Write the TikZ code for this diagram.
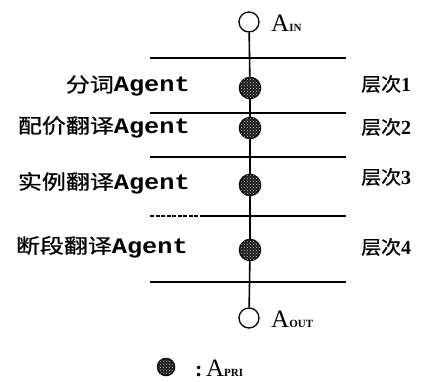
\documentclass[tikz,border=0pt]{standalone}
\usepackage{fontspec}
\usetikzlibrary{patterns}
\newfontfamily\cjk[FakeStretch=1.2,FakeBold=0.8]{Noto Sans CJK SC}
\newfontfamily\cjkr[FakeStretch=1.05,FakeBold=0.8]{Noto Sans CJK SC}
\newfontfamily\agentfont[FakeStretch=1.15]{Liberation Mono}
\newfontfamily\serfont{Liberation Serif}
\newcommand{\lbl}[1]{{\fontsize{20}{20}\selectfont\cjk #1}{\fontsize{22}{22}\selectfont\agentfont\bfseries Agent}}
\newcommand{\lvl}[1]{{\fontsize{19}{19}\selectfont\cjkr 层次}{\fontsize{20}{20}\selectfont\serfont\bfseries #1}}
\newcommand{\asub}[1]{{\fontsize{25}{25}\selectfont\serfont A}{\fontsize{11}{11}\selectfont\serfont\bfseries #1}}
\begin{document}
\begin{tikzpicture}[x=1pt,y=-1pt,
  opencirc/.style={circle,draw,line width=1.3pt,minimum size=20pt,inner sep=0pt},
  agentcirc/.style={circle,draw,line width=1.5pt,fill=black!90,minimum size=21pt,inner sep=0pt,
    postaction={pattern=crosshatch dots,pattern color=white!80!black}},
  sep/.style={line width=1.8pt},
  conn/.style={line width=1.6pt},
  lefttext/.style={anchor=east,inner sep=0pt},
  righttext/.style={anchor=west,inner sep=0pt},
  atext/.style={anchor=west,inner sep=0pt}]
\useasboundingbox (0,0) rectangle (426,381);
% nodes
\node[opencirc] (in) at (249,22) {};
\node[atext] (inlbl) at (271,23) {\asub{IN}};
\node[agentcirc] (a1) at (250,88) {};
\node[agentcirc] (a2) at (250,128) {};
\node[agentcirc] (a3) at (250,185) {};
\node[agentcirc] (a4) at (250,250) {};
\node[opencirc] (out) at (249,318) {};
\node[atext] (outlbl) at (271,319) {\asub{OUT}};
% separators
\coordinate (s1l) at (150,58);  \coordinate (s1r) at (346,58);
\coordinate (s2l) at (150,113); \coordinate (s2r) at (346,113);
\coordinate (s3l) at (150,157); \coordinate (s3r) at (346,157);
\coordinate (s4l) at (150,216); \coordinate (s4m) at (204,216); \coordinate (s4r) at (346,216);
\coordinate (s5l) at (150,282); \coordinate (s5r) at (346,282);
\draw[sep] (s1l) -- (s1r);
\draw[sep] (s2l) -- (s2r);
\draw[sep] (s3l) -- (s3r);
\draw[line width=1.8pt,dash pattern=on 4pt off 1.5pt] (s4l) -- (s4m);
\draw[sep] (s4m) -- (s4r);
\draw[sep] (s5l) -- (s5r);
% connectors
\draw[conn] (in) -- (a1);
\draw[conn] (a1) -- (a2);
\draw[conn] (a2) -- (a3);
\draw[conn] (a3) -- (a4);
\draw[conn] (a4) -- (out);
% labels
\node[lefttext] (l1) at (190,86) {\lbl{分词}};
\node[lefttext] (l2) at (190,127) {\lbl{配价翻译}};
\node[lefttext] (l3) at (190,183) {\lbl{实例翻译}};
\node[lefttext] (l4) at (188,247) {\lbl{断段翻译}};
\node[righttext] (r1) at (361,84) {\lvl{1}};
\node[righttext] (r2) at (361,127) {\lvl{2}};
\node[righttext] (r3) at (361,177) {\lvl{3}};
\node[righttext] (r4) at (361,247) {\lvl{4}};
% legend
\node[agentcirc,minimum size=17pt] (leg) at (166,367) {};
\node[atext] (leglbl) at (195,368) {{\fontsize{22}{22}\selectfont\serfont\bfseries :\,}\asub{PRI}};
\end{tikzpicture}
\end{document}
